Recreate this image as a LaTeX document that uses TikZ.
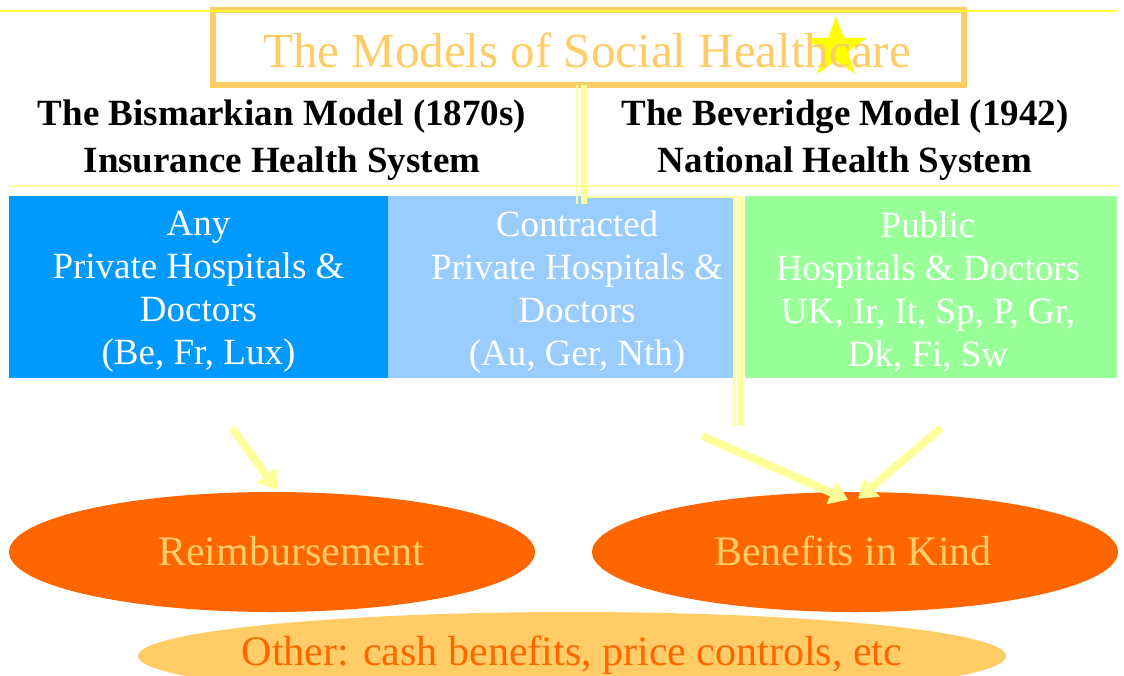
\documentclass[tikz,border=0pt]{standalone}
\usepackage{fontspec}
\setmainfont{Liberation Serif}
\usetikzlibrary{shapes.geometric,arrows.meta}
\definecolor{gold}{HTML}{FFCC66}
\definecolor{paley}{HTML}{FFFF99}
\definecolor{brighty}{HTML}{FFFF33}
\definecolor{starcol}{HTML}{FFFF00}
\definecolor{bblue}{HTML}{0099FF}
\definecolor{lblue}{HTML}{99CCFF}
\definecolor{lgreen}{HTML}{99FF99}
\definecolor{orng}{HTML}{FF6600}
\tikzset{
  colbox/.style={inner sep=0pt, minimum height=182pt, text=white, align=center,
    font=\fontsize{37}{43}\selectfont},
  header/.style={align=center, font=\fontsize{37}{47}\selectfont\bfseries, text=black},
  oval/.style={ellipse, fill=orng, inner sep=0pt, minimum width=526pt, minimum height=120pt},
  ovaltext/.style={text=gold, font=\fontsize{42}{48}\selectfont},
  arr/.style={paley, line width=8pt, -{Triangle[length=18pt,width=24pt]}},
  dline/.style={paley},
}
\begin{document}
\begin{tikzpicture}[x=1pt,y=-1pt]
\useasboundingbox (0,0) rectangle (1124,675);
% title
\node[star, star points=5, star point ratio=2.5, fill=starcol, minimum size=64pt, inner sep=0pt] (star) at (836,48) {};
\node[draw=gold, line width=6pt, minimum width=751pt, minimum height=75pt, inner sep=0pt] (title) at (588.5,47.5) {};
\node[text=gold, font=\fontsize{49}{55}\selectfont] (titletext) at (587,50) {The Models of Social Healthcare};
\draw[brighty, line width=1.5pt] (0,11) -- (1117,11);
% headers
\node[header] (bis) at (282,140) {The Bismarkian Model (1870s)\\Insurance Health System};
\node[header] (bev) at (845,140) {The Beveridge Model (1942)\\National Health System};
\draw[paley, line width=2pt] (9,186) -- (1117,186);
% columns
\node[colbox, fill=bblue, minimum width=379pt] (any) at (198.5,287) {};
\node[colbox] (anytext) at (198.5,292) {Any\\Private Hospitals \&\\Doctors\\(Be, Fr, Lux)};
\node[colbox, fill=lblue, minimum width=347pt] (contr) at (561.5,287) {};
\node[colbox] (contrtext) at (577,292) {Contracted\\Private Hospitals \&\\Doctors\\(Au, Ger, Nth)};
\node[colbox, fill=lgreen, minimum width=372pt] (pub) at (931,287) {};
\node[colbox] (pubtext) at (928,292) {Public\\Hospitals \& Doctors\\UK, Ir, It, Sp, P, Gr,\\Dk, Fi, Sw};
% double connector lines
\coordinate (v1a) at (577,85); \coordinate (v1b) at (577,204);
\coordinate (v2a) at (584,85); \coordinate (v2b) at (584,197);
\coordinate (v3a) at (734,196); \coordinate (v3b) at (734,426);
\coordinate (v4a) at (740.5,197); \coordinate (v4b) at (740.5,426);
\draw[dline, line width=2pt] (v1a) -- (v1b);
\draw[dline, line width=6pt] (v2a) -- (v2b) -- ++(0,7);
\draw[dline, line width=1.5pt] (v2b) -- (v4a);
\draw[dline, line width=2pt] (v3a) -- (v3b);
\draw[dline, line width=7pt] (v4a) -- (v4b);
% ovals
\node[oval] (reimb) at (272,552) {};
\node[ovaltext] (reimbtext) at (291,551) {Reimbursement};
\node[oval] (ben) at (855,552) {};
\node[ovaltext] (bentext) at (853,551) {Benefits in Kind};
\node[ellipse, fill=gold, inner sep=0pt, minimum width=868pt, minimum height=88pt] (other) at (572,656) {};
\node[text=orng, font=\fontsize{42}{48}\selectfont] (othertext) at (572,655) {Other: cash benefits, price controls, etc};
% arrows
\coordinate (s1) at (232,428);
\coordinate (s2) at (702,436);
\coordinate (s3) at (941,428);
\draw[arr] (s1) -- ([xshift=5pt,yshift=2pt]reimb.north);
\draw[arr] (s2) -- ([xshift=-7pt,yshift=-8pt]ben.north);
\draw[arr] (s3) -- ([xshift=3pt,yshift=-7pt]ben.north);
\end{tikzpicture}
\end{document}
